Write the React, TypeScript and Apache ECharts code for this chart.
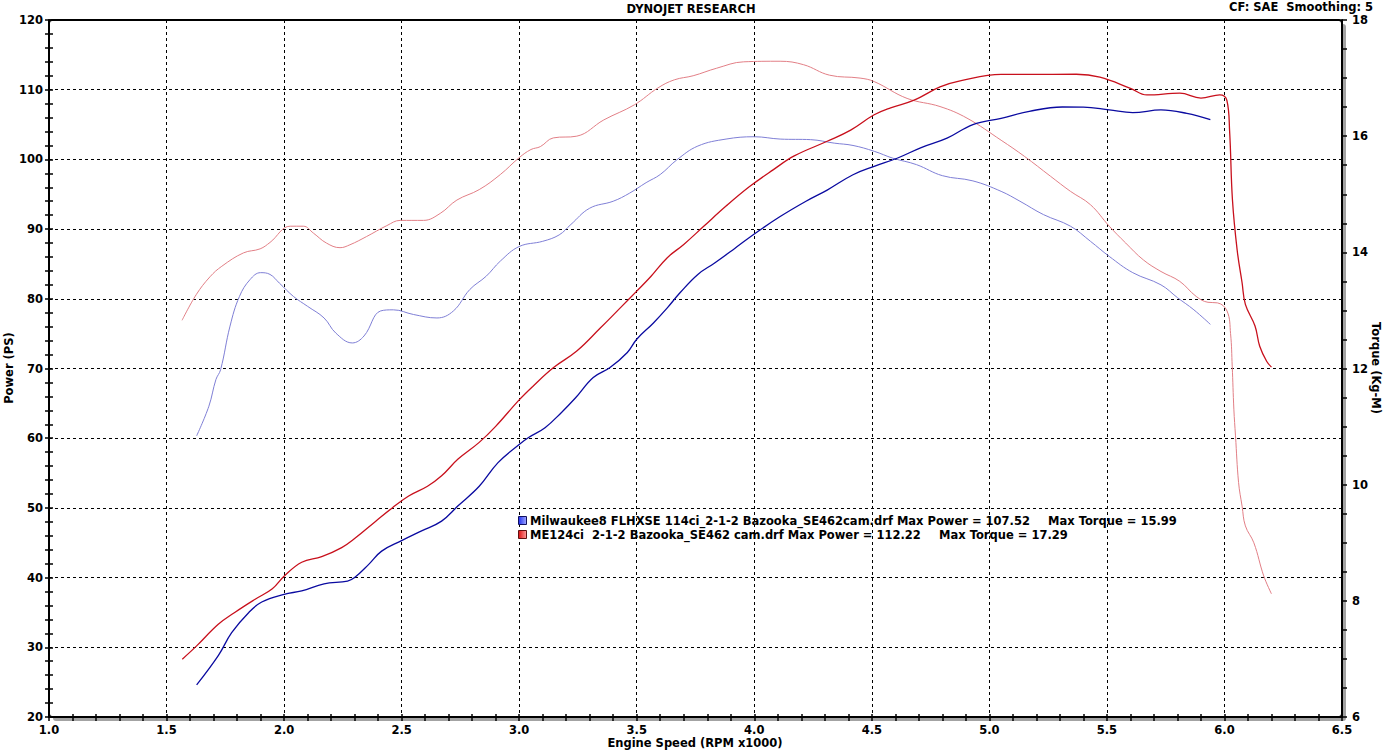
import React, { useEffect, useRef } from "react";
import * as echarts from "echarts";

const FONT = '"DejaVu Sans", Verdana, sans-serif';
const FS = 11.5;

const xTicks = { min: 1.0, max: 6.5, interval: 0.5 };
const powerTicks = { min: 20, max: 120, interval: 10 };
const torqueTicks = { min: 6, max: 18, interval: 2 };

const titleText = "DYNOJET RESEARCH";
const infoText = "CF: SAE  Smoothing: 5";
const xName = "Engine Speed (RPM x1000)";
const powerName = "Power (PS)";
const torqueName = "Torque (Kg-M)";

const legend1a = "Milwaukee8 FLHXSE 114ci_2-1-2 Bazooka_SE462cam.drf Max Power = 107.52";
const legend1b = "Max Torque = 15.99";
const legend2a = "ME124ci  2-1-2 Bazooka_SE462 cam.drf Max Power = 112.22";
const legend2b = "Max Torque = 17.29";

// ME124ci power (PS)
const redPower: [number, number][] = [
  [1.567, 28.3], [1.628, 30.2], [1.72, 33.3], [1.79, 35.0], [1.877, 36.9], [1.95, 38.4],
  [2.0, 40.2], [2.075, 42.2], [2.16, 43.0], [2.245, 44.3], [2.3, 45.6], [2.39, 48.1],
  [2.46, 50.0], [2.53, 51.7], [2.61, 53.1], [2.67, 54.6], [2.74, 57.0], [2.83, 59.4],
  [2.9, 61.7], [3.0, 65.5], [3.06, 67.5], [3.145, 70.1], [3.245, 72.5], [3.345, 75.8],
  [3.43, 78.7], [3.5, 81.1], [3.56, 83.2], [3.63, 85.9], [3.7, 87.8], [3.785, 90.4],
  [3.88, 93.3], [3.98, 96.1], [4.08, 98.5], [4.17, 100.5], [4.31, 102.6], [4.41, 104.2],
  [4.51, 106.4], [4.58, 107.4], [4.68, 108.5], [4.79, 110.4], [4.88, 111.3], [5.05, 112.2],
  [5.17, 112.2], [5.37, 112.22], [5.47, 111.8], [5.6, 110.2], [5.67, 109.25], [5.81, 109.5],
  [5.9, 108.8], [5.98, 109.25], [6.01, 108.5], [6.022, 104.0], [6.034, 94.2], [6.054, 87.0],
  [6.075, 82.3], [6.089, 79.2], [6.13, 76.1], [6.15, 73.2], [6.18, 71.0], [6.2, 70.2],
];

// ME124ci torque (Kg-M)
const redTorque: [number, number][] = [
  [1.566, 12.83], [1.626, 13.27], [1.685, 13.58], [1.735, 13.76], [1.827, 13.99], [1.898, 14.06],
  [1.94, 14.17], [2.026, 14.45], [2.082, 14.45], [2.125, 14.33], [2.18, 14.16], [2.238, 14.08],
  [2.28, 14.13], [2.35, 14.27], [2.437, 14.46], [2.494, 14.55], [2.593, 14.55], [2.664, 14.67],
  [2.735, 14.9], [2.83, 15.08], [2.92, 15.34], [3.0, 15.63], [3.05, 15.77], [3.09, 15.82],
  [3.145, 15.97], [3.245, 16.0], [3.36, 16.28], [3.49, 16.54], [3.59, 16.83], [3.66, 16.97],
  [3.74, 17.04], [3.84, 17.17], [3.955, 17.28], [4.11, 17.29], [4.21, 17.23], [4.32, 17.05],
  [4.45, 17.0], [4.51, 16.94], [4.65, 16.65], [4.79, 16.51], [4.905, 16.31], [5.05, 15.93],
  [5.15, 15.65], [5.26, 15.31], [5.345, 15.05], [5.43, 14.82], [5.51, 14.45], [5.58, 14.16],
  [5.655, 13.87], [5.73, 13.67], [5.81, 13.5], [5.88, 13.24], [5.93, 13.14], [5.97, 13.13],
  [6.011, 12.99], [6.026, 12.6], [6.033, 12.04], [6.04, 11.3], [6.047, 10.84], [6.06, 10.04],
  [6.075, 9.63], [6.089, 9.29], [6.125, 9.0], [6.167, 8.43], [6.2, 8.12],
];

// Milwaukee8 power (PS)
const bluePower: [number, number][] = [
  [1.628, 24.6], [1.72, 28.8], [1.777, 32.1], [1.85, 35.0], [1.905, 36.5], [2.0, 37.6],
  [2.075, 38.1], [2.17, 39.1], [2.27, 39.5], [2.3, 40.0], [2.36, 41.9], [2.415, 43.8],
  [2.5, 45.3], [2.585, 46.7], [2.67, 48.1], [2.74, 50.3], [2.83, 53.1], [2.91, 56.5],
  [3.0, 59.1], [3.04, 60.1], [3.11, 61.5], [3.18, 63.7], [3.24, 65.8], [3.315, 68.7],
  [3.385, 70.1], [3.46, 72.3], [3.5, 74.2], [3.57, 76.5], [3.63, 78.7], [3.685, 80.9],
  [3.76, 83.5], [3.83, 85.1], [3.91, 87.05], [4.0, 89.3], [4.11, 91.8], [4.22, 94.0],
  [4.31, 95.6], [4.42, 97.8], [4.51, 99.0], [4.61, 100.2], [4.71, 101.7], [4.82, 103.05],
  [4.93, 105.0], [5.05, 105.9], [5.17, 106.9], [5.31, 107.52], [5.4, 107.5], [5.51, 107.1],
  [5.61, 106.7], [5.73, 107.1], [5.84, 106.6], [5.94, 105.7],
];

// Milwaukee8 torque (Kg-M)
const blueTorque: [number, number][] = [
  [1.628, 10.84], [1.68, 11.35], [1.71, 11.81], [1.73, 11.98], [1.77, 12.73], [1.81, 13.24],
  [1.855, 13.53], [1.9, 13.65], [1.94, 13.62], [1.98, 13.47], [2.04, 13.24], [2.1, 13.07],
  [2.17, 12.87], [2.22, 12.61], [2.29, 12.44], [2.34, 12.56], [2.41, 12.99], [2.465, 13.01],
  [2.55, 12.93], [2.65, 12.87], [2.72, 12.99], [2.79, 13.36], [2.86, 13.59], [2.92, 13.85],
  [3.0, 14.1], [3.1, 14.19], [3.17, 14.3], [3.22, 14.48], [3.3, 14.76], [3.4, 14.88],
  [3.47, 15.02], [3.54, 15.2], [3.6, 15.34], [3.67, 15.59], [3.76, 15.83], [3.88, 15.95],
  [4.0, 15.99], [4.11, 15.95], [4.24, 15.94], [4.34, 15.88], [4.42, 15.84], [4.51, 15.74],
  [4.59, 15.62], [4.69, 15.51], [4.8, 15.32], [4.93, 15.23], [5.05, 15.05], [5.13, 14.88],
  [5.23, 14.65], [5.345, 14.45], [5.43, 14.19], [5.51, 13.93], [5.61, 13.65], [5.73, 13.44],
  [5.8, 13.22], [5.87, 13.01], [5.94, 12.76],
];

const GL = 49, GT = 20, GW = 1293, GH = 697;

export default function App() {
  const ref = useRef<HTMLDivElement>(null);
  useEffect(() => {
    if (!ref.current) return;
    const chart = echarts.init(ref.current, null, { renderer: "svg" });
    const label = { color: "#000", fontFamily: FONT, fontWeight: "bold" as const, fontSize: FS };
    const dash = { color: "#000", width: 1, type: [3, 3] as number[] };
    const font = `bold ${FS}px ${FONT}`;
    const lineSeries = (name: string, data: [number, number][], color: string, width: number, yIdx: number, z: number) => ({
      name, type: "line", data, xAxisIndex: 0, yAxisIndex: yIdx, showSymbol: false, symbol: "none",
      smooth: 0.4, lineStyle: { color, width }, silent: true, z,
    });
    chart.setOption({
      animation: false,
      grid: { left: GL, top: GT, width: GW, height: GH, containLabel: false },
      xAxis: [
        {
          type: "value", position: "bottom", ...xTicks,
          axisLine: { show: true, lineStyle: { color: "#000", width: 2 } },
          axisTick: { show: true, inside: false, length: 4, lineStyle: { color: "#000", width: 1.5 } },
          minorTick: { show: true, splitNumber: 5, length: 4, lineStyle: { color: "#000", width: 1.5 } },
          axisLabel: { ...label, margin: 7, formatter: (v: number) => v.toFixed(1) },
          splitLine: { show: true, lineStyle: dash },
        },
        {
          type: "value", position: "bottom", ...xTicks,
          axisLine: { show: false },
          axisTick: { show: true, inside: true, length: 3, lineStyle: { color: "#000", width: 1.5 } },
          minorTick: { show: true, splitNumber: 5, length: 3, lineStyle: { color: "#000", width: 1.5 } },
          axisLabel: { show: false }, splitLine: { show: false },
        },
      ],
      yAxis: [
        {
          type: "value", position: "left", ...powerTicks,
          axisLine: { show: true, lineStyle: { color: "#000", width: 2 } },
          axisTick: { show: true, inside: false, length: 4, lineStyle: { color: "#000", width: 1.5 } },
          minorTick: { show: true, splitNumber: 5, length: 4, lineStyle: { color: "#000", width: 1.5 } },
          axisLabel: { ...label, margin: 6 },
          splitLine: { show: true, lineStyle: dash },
        },
        {
          type: "value", position: "right", ...torqueTicks,
          axisLine: { show: true, lineStyle: { color: "#000", width: 2 } },
          axisTick: { show: true, inside: false, length: 5, lineStyle: { color: "#000", width: 1.5 } },
          minorTick: { show: true, splitNumber: 4, length: 5, lineStyle: { color: "#000", width: 1.5 } },
          axisLabel: { ...label, margin: 10 },
          splitLine: { show: false },
        },
        {
          type: "value", position: "left", ...powerTicks,
          axisLine: { show: false },
          axisTick: { show: true, inside: true, length: 4, lineStyle: { color: "#000", width: 1.5 } },
          minorTick: { show: true, splitNumber: 5, length: 4, lineStyle: { color: "#000", width: 1.5 } },
          axisLabel: { show: false }, splitLine: { show: false },
        },
      ],
      series: [
        lineSeries("ME124ci torque", redTorque, "#e27f86", 1, 1, 3),
        lineSeries("Milwaukee8 torque", blueTorque, "#7f7fd6", 1, 1, 3),
        lineSeries("Milwaukee8 power", bluePower, "#0a0aa0", 1.3, 0, 4),
        lineSeries("ME124ci power", redPower, "#c8101c", 1.3, 0, 5),
      ],
      graphic: [
        { type: "rect", z: -20, silent: true, shape: { x: GL + 4, y: GT + 4, width: GW, height: GH, r: 3 }, style: { fill: "#a3a3a3" } },
        { type: "rect", z: -19, silent: true, shape: { x: GL, y: GT, width: GW, height: GH, r: 3 }, style: { fill: "#fff", stroke: "#000", lineWidth: 2 } },
        { type: "text", z: 10, silent: true, x: 691, y: 9, style: { text: titleText, fill: "#000", font, align: "center", verticalAlign: "middle" } },
        { type: "text", z: 10, silent: true, x: 1373, y: 7, style: { text: infoText, fill: "#000", font, align: "right", verticalAlign: "middle" } },
        { type: "text", z: 10, silent: true, x: 695, y: 743, style: { text: xName, fill: "#000", font, align: "center", verticalAlign: "middle" } },
        { type: "text", z: 10, silent: true, x: 9, y: 368, rotation: Math.PI / 2, style: { text: powerName, fill: "#000", font, align: "center", verticalAlign: "middle" } },
        { type: "text", z: 10, silent: true, x: 1376, y: 368, rotation: -Math.PI / 2, style: { text: torqueName, fill: "#000", font, align: "center", verticalAlign: "middle" } },
        {
          type: "rect", z: 10, silent: true, shape: { x: 518.5, y: 516.5, width: 8, height: 8 },
          style: { fill: { type: "linear", x: 0, y: 0, x2: 1, y2: 0, colorStops: [{ offset: 0, color: "#1f2ff0" }, { offset: 1, color: "#a0a8ff" }] }, stroke: "#101060", lineWidth: 1 },
        },
        {
          type: "rect", z: 10, silent: true, shape: { x: 518.5, y: 530.5, width: 8, height: 8 },
          style: { fill: { type: "linear", x: 0, y: 0, x2: 1, y2: 0, colorStops: [{ offset: 0, color: "#e01010" }, { offset: 1, color: "#ff9a9a" }] }, stroke: "#601010", lineWidth: 1 },
        },
        { type: "text", z: 10, silent: true, x: 530, y: 521, style: { text: legend1a, fill: "#000", font, align: "left", verticalAlign: "middle" } },
        { type: "text", z: 10, silent: true, x: 1048, y: 521, style: { text: legend1b, fill: "#000", font, align: "left", verticalAlign: "middle" } },
        { type: "text", z: 10, silent: true, x: 530, y: 535, style: { text: legend2a, fill: "#000", font, align: "left", verticalAlign: "middle" } },
        { type: "text", z: 10, silent: true, x: 939, y: 535, style: { text: legend2b, fill: "#000", font, align: "left", verticalAlign: "middle" } },
      ],
    });
    return () => chart.dispose();
  }, []);
  return <div ref={ref} style={{ position: "absolute", left: 0, top: 0, width: 1383, height: 750, background: "#fff" }} />;
}
